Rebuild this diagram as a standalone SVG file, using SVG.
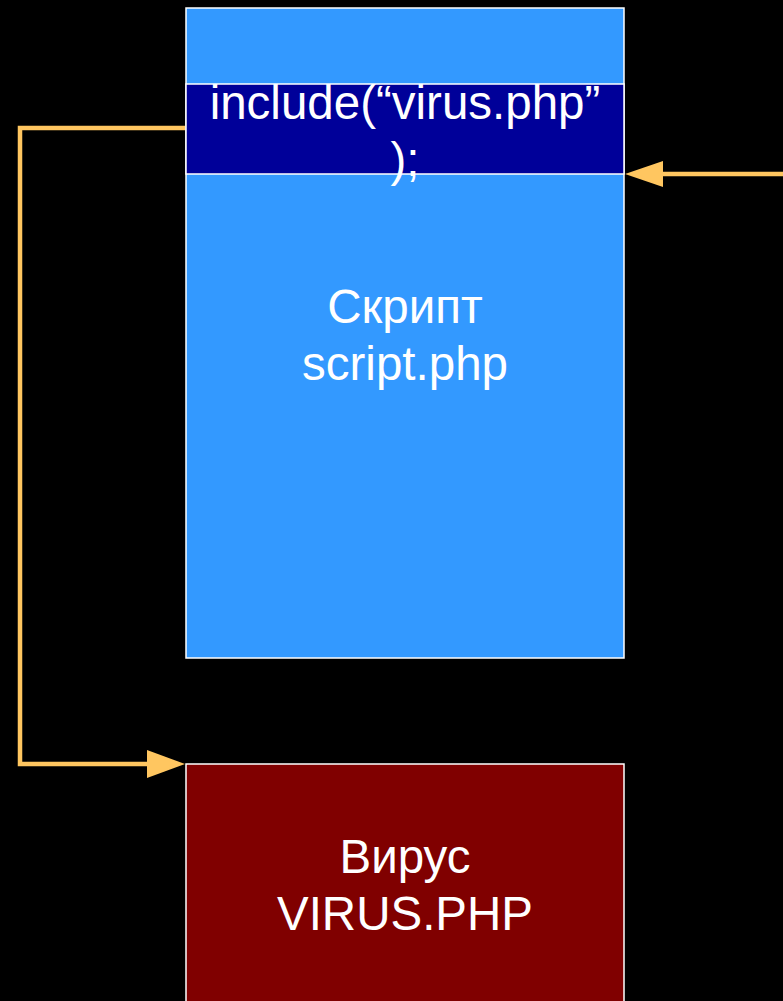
<svg xmlns="http://www.w3.org/2000/svg" width="783" height="1001" viewBox="0 0 783 1001">
  <defs>
    <style>
      .box { stroke: #ffffff; stroke-width: 1.5; }
      .label { font-family: "Liberation Sans", Arial, sans-serif; font-size: 47.5px; fill: #ffffff; text-anchor: middle; }
      .link { fill: none; stroke: #ffc660; stroke-width: 4.5; stroke-linejoin: miter; }
      .head { fill: #ffc660; }
    </style>
  </defs>
  <rect x="0" y="0" width="783" height="1001" fill="#000000"/>

  <g id="script">
    <rect class="box" x="186" y="8" width="438" height="650" fill="#3399ff"/>
    <text class="label" x="405" y="323">Скрипт</text>
    <text class="label" x="405" y="380">script.php</text>
  </g>

  <g id="include-line">
    <rect class="box" x="186" y="84" width="438" height="90" fill="#000099"/>
    <text class="label" x="405" y="119">include(“virus.php”</text>
    <text class="label" x="405" y="176">);</text>
  </g>

  <g id="virus">
    <rect class="box" x="186" y="764" width="438" height="250" fill="#800000"/>
    <text class="label" x="405" y="873">Вирус</text>
    <text class="label" x="405" y="930">VIRUS.PHP</text>
  </g>

  <g id="connectors">
    <!-- include line jumps out to the virus file -->
    <polyline class="link" points="185,128 20,128 20,764 150,764"/>
    <polygon class="head" points="185,764 147,750 147,778"/>
    <!-- incoming execution reaches the include line -->
    <line class="link" x1="783" y1="174" x2="660" y2="174"/>
    <polygon class="head" points="625,174 663,161 663,187"/>
  </g>
</svg>
